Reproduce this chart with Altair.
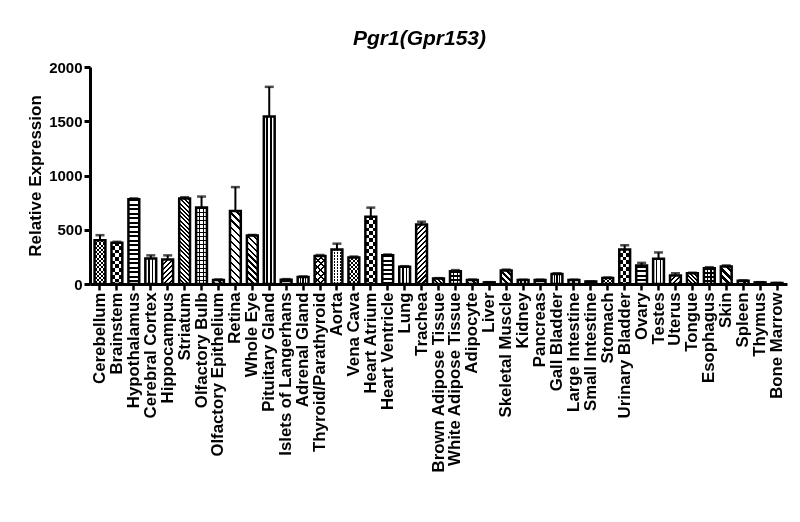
import math
import altair as alt
import pandas as pd

# ---------------- data ----------------
names = [
    "Cerebellum", "Brainstem", "Hypothalamus", "Cerebral Cortex", "Hippocampus",
    "Striatum", "Olfactory Bulb", "Olfactory Epithelium", "Retina", "Whole Eye",
    "Pituitary Gland", "Islets of Langerhans", "Adrenal Gland", "Thyroid/Parathyroid",
    "Aorta", "Vena Cava", "Heart Atrium", "Heart Ventricle", "Lung", "Trachea",
    "Brown Adipose Tissue", "White Adipose Tissue", "Adipocyte", "Liver",
    "Skeletal Muscle", "Kidney", "Pancreas", "Gall Bladder", "Large Intestine",
    "Small Intestine", "Stomach", "Urinary Bladder", "Ovary", "Testes", "Uterus",
    "Tongue", "Esophagus", "Skin", "Spleen", "Thymus", "Bone Marrow",
]
values = [403, 381, 781, 236, 226, 787, 704, 37, 673, 446,
          1544, 40, 65, 257, 319, 245, 620, 264, 158, 549,
          50, 118, 37, 15, 124, 37, 37, 93, 37, 22,
          56, 319, 170, 232, 78, 99, 146, 161, 31, 15, 9]
errors = [47, 8, 8, 28, 38, 13, 102, 5, 220, 6,
          273, 5, 5, 10, 53, 8, 84, 8, 6, 25,
          4, 10, 4, 2, 9, 3, 3, 6, 3, 2,
          4, 38, 25, 59, 21, 5, 9, 10, 3, 2, 1]

df = pd.DataFrame({"name": names, "value": values, "err": errors})
df["top"] = df["value"] + df["err"]

# ---------------- layout / style ----------------
W, H = 697, 217
YMAX = 2000
PI, PO = 0.36, 0.27
step = W / (len(names) - PI + 2 * PO)
bw = step * (1 - PI)
SQ2 = math.sqrt(2)

BLACK = "#000000"
WHITE = "#ffffff"
CLEAR = "rgba(0,0,0,0)"
WCLEAR = "rgba(255,255,255,0)"
FONT = "Liberation Sans"

# hatch pattern cycle (repeats every 15 bars)
PATTERNS = [
    ("checker", 5),          # small checker
    ("checker", 3),          # big checker
    ("h", 4.5, 2.0),         # horizontal stripes
    ("v", 3, 1.4),           # vertical lines
    ("d1", 3.5, 1.5),        # "/" fine
    ("d2", 3.0, 1.4),        # "\" fine
    ("grid", 4.0, 3, 1.4),   # square grid
    ("d2", 5.0, 2.2),        # "\" wide thick
    ("d2", 5.0, 1.7),        # "\" wide
    ("d2", 4.2, 1.7),        # "\" medium
    ("v", 3, 1.9),           # vertical thick lines
    ("h", 6.0, 2.0),         # horizontal wide
    ("v", 4, 1.3),           # vertical dense
    ("x", 4.5, 1.4),         # diagonal crosshatch
    ("dots", 3.0, 1.3),      # dots
]


def stops(L, period, on_len, on, off, phase=0.0):
    """Hard-edged periodic stripes along a gradient of length L (pixels)."""
    L = max(L, 0.5)
    k0 = math.floor((0 - phase) / period) - 1
    k1 = math.ceil((L - phase) / period) + 1
    segs = []
    for k in range(k0, k1 + 1):
        a = phase + k * period
        b = a + on_len
        segs.append((a, b, on))
        segs.append((b, a + period, off))
    out = []
    for s, e, col in segs:
        s2, e2 = max(s, 0.0), min(e, L)
        if e2 - s2 <= 1e-9:
            continue
        out.append({"offset": round(s2 / L, 6), "color": col})
        out.append({"offset": round(e2 / L, 6), "color": col})
    return out


def grad(kind, w, h, period, on_len, on, off, phase=0.0):
    h = max(h, 0.5)
    if kind == "h":
        L = h
        c = dict(x1=0, y1=0, x2=0, y2=1)
    elif kind == "v":
        L = w
        c = dict(x1=0, y1=0, x2=1, y2=0)
    else:
        k = (w + h) / (w * w + h * h)
        L = w + h
        period *= SQ2
        on_len *= SQ2
        phase *= SQ2
        if kind == "d1":
            c = dict(x1=0, y1=0, x2=w * k, y2=h * k)
        else:
            c = dict(x1=0, y1=1, x2=w * k, y2=1 - h * k)
    g = {"gradient": "linear"}
    g.update({kk: round(vv, 6) for kk, vv in c.items()})
    g["stops"] = stops(L, period, on_len, on, off, phase)
    return g


def pattern_layers(p, w, h):
    kind = p[0]
    if kind == "checker":
        c = w / p[1]
        return [(grad("h", w, h, 2 * c, c, BLACK, WHITE), None),
                (grad("v", w, h, 2 * c, c, WHITE, WCLEAR), "difference")]
    if kind == "h":
        return [(grad("h", w, h, p[1], p[2], BLACK, WHITE), None)]
    if kind == "v":
        per = w / p[1]
        lw = p[2]
        return [(grad("v", w, h, per, lw, BLACK, WHITE, phase=-lw / 2), None)]
    if kind in ("d1", "d2"):
        return [(grad(kind, w, h, p[1], p[2], BLACK, WHITE), None)]
    if kind == "grid":
        hp, n, lw = p[1], p[2], p[3]
        return [(grad("h", w, h, hp, lw, BLACK, WHITE), None),
                (grad("v", w, h, w / n, lw, BLACK, CLEAR, phase=-lw / 2), None)]
    if kind == "x":
        return [(grad("d1", w, h, p[1], p[2], BLACK, WHITE), None),
                (grad("d2", w, h, p[1], p[2], BLACK, CLEAR), None)]
    if kind == "dots":
        per, ds = p[1], p[2]
        return [(grad("h", w, h, per, ds, BLACK, WHITE), None),
                (grad("v", w, h, per, per - ds, WHITE, CLEAR, phase=ds / 2), None)]
    return [({"gradient": "linear", "stops": [{"offset": 0, "color": WHITE},
                                              {"offset": 1, "color": WHITE}]}, None)]


xscale = alt.Scale(domain=names, paddingInner=PI, paddingOuter=PO)
yscale = alt.Scale(domain=[0, YMAX], nice=False, zero=True)

xaxis = alt.Axis(title=None, labelAngle=-90, labelFont=FONT, labelFontSize=16.8,
                 labelFontWeight="bold", labelColor=BLACK, labelPadding=2,
                 labelOverlap=False, labelLimit=400, domainColor=BLACK, domainWidth=3,
                 tickColor=BLACK, tickWidth=2.5, tickSize=6)
yaxis = alt.Axis(title="Relative Expression", values=[0, 500, 1000, 1500, 2000],
                 format="d", grid=False, labelFont=FONT, labelFontSize=15,
                 labelFontWeight="bold", labelColor=BLACK, labelPadding=2,
                 domainColor=BLACK, domainWidth=3, tickColor=BLACK, tickWidth=3,
                 tickSize=6, titleFont=FONT, titleFontSize=17, titleFontWeight="bold",
                 titleColor=BLACK, titlePadding=4)


def xenc():
    return alt.X("name:N", scale=xscale, axis=xaxis, sort=None)


def yenc(field):
    return alt.Y(field + ":Q", scale=yscale, axis=yaxis)


base = alt.Chart(df)
base_layers, over_layers = [], []
for i, name in enumerate(names):
    h = values[i] / YMAX * H
    for j, (g, blend) in enumerate(pattern_layers(PATTERNS[i % len(PATTERNS)], bw, h)):
        kw = dict(fill=g, strokeWidth=0)
        if blend:
            kw["blend"] = blend
        layer = (base.transform_filter(alt.datum.name == name)
                 .mark_bar(**kw)
                 .encode(x=xenc(), y=yenc("value")))
        (base_layers if j == 0 else over_layers).append(layer)

outline = base.mark_bar(fillOpacity=0, stroke=BLACK, strokeWidth=2.5).encode(
    x=xenc(), y=yenc("value"))
rule = base.mark_rule(color=BLACK, strokeWidth=2).encode(
    x=xenc(), y=yenc("value"), y2="top:Q")
cap = base.mark_tick(color=BLACK, thickness=2.5, size=9).encode(
    x=xenc(), y=yenc("top"))

chart = alt.layer(*base_layers, *over_layers, outline, rule, cap).properties(
    width=W,
    height=H,
    title=alt.Title("Pgr1(Gpr153)", font=FONT, fontSize=21, fontWeight="bold",
                    fontStyle="italic", color=BLACK, anchor="middle", frame="group",
                    dx=-19, dy=19, offset=13, baseline="alphabetic"),
    autosize=alt.AutoSizeParams(type="none"),
    padding={"left": 82, "top": 59, "right": 5, "bottom": 230},
    background="white",
).configure_view(strokeWidth=0)

chart.save("out.html", embed_options={"renderer": "svg", "actions": False})
